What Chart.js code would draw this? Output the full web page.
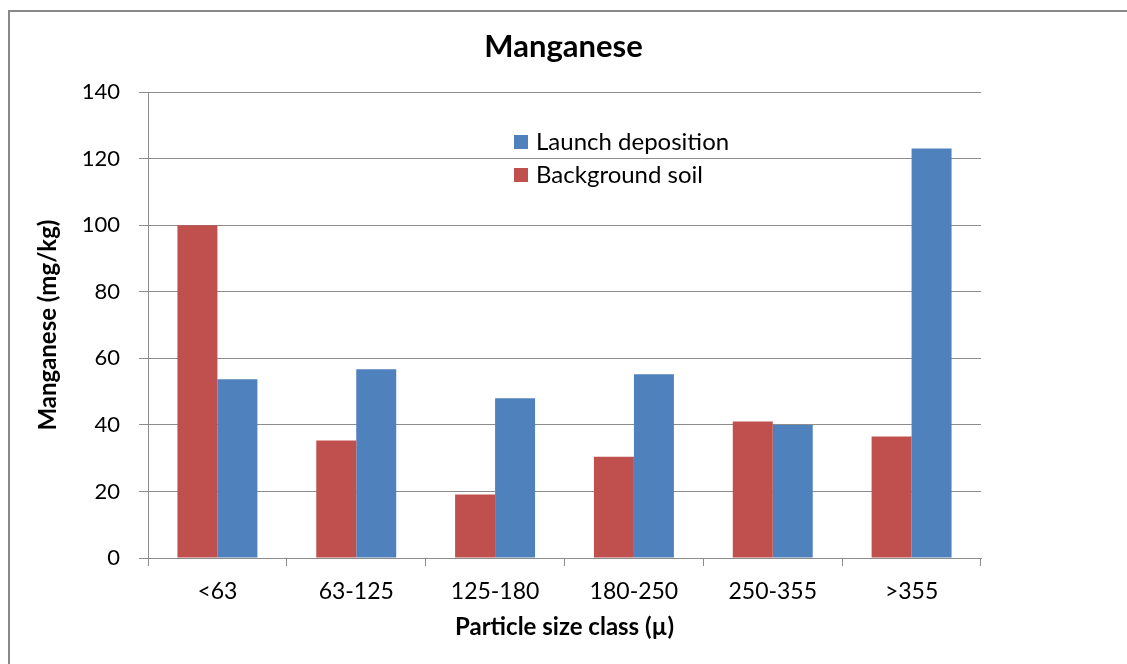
<!DOCTYPE html>
<html>
<head>
<meta charset="utf-8">
<title>Manganese</title>
<script src="https://cdn.jsdelivr.net/npm/chart.js@4"></script>
<style>
  html, body { margin: 0; padding: 0; background: #fff; overflow: hidden; }
  #frame {
    position: absolute; left: 8px; top: 10px; width: 1200px; height: 800px;
    border-left: 2px solid #898989; border-top: 2px solid #898989;
    pointer-events: none;
  }
  #wrap { position: absolute; left: 0; top: 0; width: 1127px; height: 664px; }
</style>
</head>
<body>
<div id="frame"></div>
<div id="wrap"><canvas id="mn" width="1127" height="664"></canvas></div>
<script>
// ── Manganese by particle size class ──
const sizeClasses = ['<63', '63-125', '125-180', '180-250', '250-355', '>355'];
const backgroundSoil = [100, 35.3, 19.1, 30.4, 41.0, 36.5];
const launchDeposition = [53.7, 56.7, 48.0, 55.2, 40.0, 123.1];
const yTicks = [0, 20, 40, 60, 80, 100, 120, 140];

const RED = '#C0504D';
const BLUE = '#4F81BD';
const GRID = '#8c8c8c';
const FONT = 'Lato, "Open Sans", sans-serif';

// legend inside the plot, listed last-series-first
const insideLegend = {
  id: 'insideLegend',
  afterDraw(chart) {
    const ctx = chart.ctx;
    const items = chart.data.datasets.slice().reverse();
    ctx.save();
    ctx.font = '24px ' + FONT;
    ctx.textBaseline = 'middle';
    ctx.textAlign = 'left';
    items.forEach((ds, i) => {
      const y = 142 + i * 33;
      ctx.fillStyle = ds.backgroundColor;
      ctx.fillRect(514, y - 7, 14, 14);
      ctx.fillStyle = '#000';
      ctx.fillText(ds.label, 536, y);
    });
    ctx.restore();
  }
};

new Chart(document.getElementById('mn'), {
  type: 'bar',
  data: {
    labels: sizeClasses,
    datasets: [
      { label: 'Background soil', data: backgroundSoil, backgroundColor: RED,
        borderWidth: 0, categoryPercentage: 0.576, barPercentage: 1 },
      { label: 'Launch deposition', data: launchDeposition, backgroundColor: BLUE,
        borderWidth: 0, categoryPercentage: 0.576, barPercentage: 1 }
    ]
  },
  options: {
    responsive: false,
    animation: false,
    layout: { padding: 0 },
    plugins: {
      legend: { display: false },
      tooltip: { enabled: false },
      title: {
        display: true, text: 'Manganese', color: '#000',
        font: { family: FONT, size: 31, weight: 'bold', lineHeight: 1.2 },
        padding: { top: 28, bottom: 27 }
      }
    },
    scales: {
      x: {
        grid: { drawOnChartArea: false, drawTicks: true, tickLength: 8, color: GRID },
        border: { color: GRID, width: 1 },
        ticks: { color: '#000', padding: 12, font: { family: FONT, size: 23 } },
        title: {
          display: true, text: 'Particle size class (µ)', color: '#000',
          font: { family: FONT, size: 24, weight: 'bold', lineHeight: 1.2 },
          padding: { top: 0, bottom: 22 }
        },
        afterFit(scale) { scale.height = 106; }
      },
      y: {
        min: 0, max: 140,
        afterBuildTicks(scale) { scale.ticks = yTicks.map(v => ({ value: v })); },
        grid: { color: GRID, tickLength: 9 },
        border: { color: GRID, width: 1 },
        ticks: { color: '#000', padding: 19, font: { family: FONT, size: 22 } },
        title: {
          display: true, text: 'Manganese (mg/kg)', color: '#000',
          font: { family: FONT, size: 24, weight: 'bold', lineHeight: 1.2 },
          padding: { top: 34, bottom: 0 }
        },
        afterFit(scale) { scale.width = 148; }
      },
      // empty right-hand margin so the title centres over the whole figure
      side: {
        position: 'right',
        grid: { display: false },
        border: { display: false },
        ticks: { display: false },
        afterFit(scale) { scale.width = 146; }
      }
    }
  },
  plugins: [insideLegend]
});
</script>
</body>
</html>
